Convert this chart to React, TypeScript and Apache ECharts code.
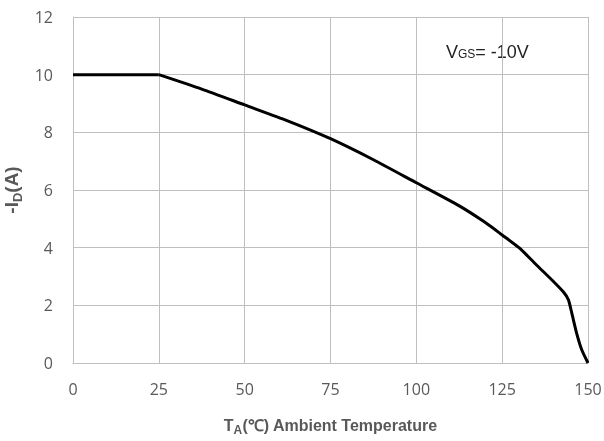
import React, { useEffect, useRef } from "react";
import * as echarts from "echarts";

// Ambient temperature (°C) and drain current magnitude (A)
const flatTemp = [0, 25];
const flatCurrent = [10, 10];
const tempC = [25, 37.5, 50, 62.5, 75, 87.5, 100, 112.5, 120, 125, 130, 135, 139.5, 142.8, 144.3, 145.3, 146.7, 148.2, 150];
const currentA = [10, 9.5, 8.95, 8.4, 7.78, 7.05, 6.25, 5.45, 4.88, 4.44, 3.99, 3.4, 2.88, 2.47, 2.19, 1.72, 1.03, 0.45, 0];

const xTicks = [0, 25, 50, 75, 100, 125, 150];
const yTicks = [0, 2, 4, 6, 8, 10, 12];

const labelColor = "#595959";
const gridColor = "#bfbfbf";

export default function App() {
  const ref = useRef<HTMLDivElement>(null);

  useEffect(() => {
    if (!ref.current) return;
    const chart = echarts.init(ref.current, null, { renderer: "svg" });
    const lineStyle = { color: "#000", width: 3 };
    chart.setOption({
      animation: false,
      grid: { left: 73, top: 17, right: 16, bottom: 78, outerBoundsMode: "none" },
      xAxis: {
        type: "value",
        min: xTicks[0],
        max: xTicks[xTicks.length - 1],
        interval: 25,
        axisLine: { show: true, lineStyle: { color: gridColor, width: 1 } },
        axisTick: { show: false },
        splitLine: { show: true, lineStyle: { color: gridColor, width: 1 } },
        axisLabel: { color: labelColor, fontSize: 16, fontFamily: "Open Sans", margin: 18 },
        name: "{b|T}{s|A}{b|(℃) Ambient Temperature}",
        nameLocation: "middle",
        nameGap: 52,
        nameTextStyle: {
          rich: {
            b: { fontSize: 16, fontWeight: "bold", color: labelColor, fontFamily: "Liberation Sans" },
            s: { fontSize: 12, fontWeight: "bold", color: labelColor, fontFamily: "Liberation Sans", padding: [9, 0, 0, 0] },
          },
        },
      },
      yAxis: {
        type: "value",
        min: yTicks[0],
        max: yTicks[yTicks.length - 1],
        interval: 2,
        axisLine: { show: true, lineStyle: { color: gridColor, width: 1 } },
        axisTick: { show: false },
        splitLine: { show: true, lineStyle: { color: gridColor, width: 1 } },
        axisLabel: { color: labelColor, fontSize: 16, fontFamily: "Open Sans", margin: 20 },
        name: "{b|-I}{s|D}{b|(A)}",
        nameLocation: "middle",
        nameRotate: 90,
        nameGap: 40,
        nameTextStyle: {
          rich: {
            b: { fontSize: 19, fontWeight: "bold", color: labelColor, fontFamily: "Liberation Sans" },
            s: { fontSize: 13, fontWeight: "bold", color: labelColor, fontFamily: "Liberation Sans", padding: [11, 0, 0, 0] },
          },
        },
      },
      graphic: [
        {
          type: "text",
          left: 446,
          top: 43,
          style: {
            text: "{a|V}{s|GS}{a|= -10V}",
            rich: {
              a: { fontSize: 18, fill: "#222", fontFamily: "Liberation Sans" },
              s: { fontSize: 12, fill: "#222", fontFamily: "Liberation Sans", padding: [3, 0, 0, 0] },
            },
          },
        },
      ],
      series: [
        {
          type: "line",
          data: flatTemp.map((t, i) => [t, flatCurrent[i]]),
          showSymbol: false,
          lineStyle,
        },
        {
          type: "line",
          data: tempC.map((t, i) => [t, currentA[i]]),
          showSymbol: false,
          smooth: 0.2,
          lineStyle,
        },
      ],
    });
    return () => chart.dispose();
  }, []);

  return (
    <div
      ref={ref}
      style={{ position: "fixed", left: 0, top: 0, width: 604, height: 441 }}
    />
  );
}
